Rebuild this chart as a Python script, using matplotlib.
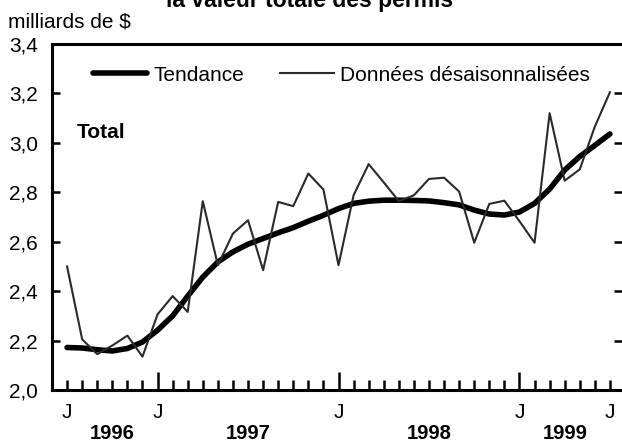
import matplotlib
matplotlib.use("Agg")
import matplotlib.pyplot as plt
import matplotlib.transforms as mtransforms

plt.rcParams['font.family'] = ['Liberation Sans', 'DejaVu Sans']

# Months from Jul 1996 (index 0) to Jul 1999 (index 36)
months = list(range(37))
data = [2.50, 2.205, 2.145, 2.18, 2.22, 2.135, 2.306, 2.38, 2.316, 2.764,
        2.505, 2.633, 2.687, 2.485, 2.761, 2.744, 2.876, 2.811, 2.505, 2.788,
        2.914, 2.84, 2.764, 2.788, 2.854, 2.859, 2.803, 2.596, 2.753, 2.766,
        2.683, 2.596, 3.12, 2.847, 2.893, 3.066, 3.205]
trend = [2.172, 2.17, 2.163, 2.158, 2.168, 2.194, 2.242, 2.30, 2.38, 2.457,
         2.518, 2.559, 2.59, 2.613, 2.636, 2.657, 2.683, 2.707, 2.734, 2.755,
         2.764, 2.768, 2.768, 2.767, 2.765, 2.758, 2.749, 2.728, 2.712, 2.708,
         2.72, 2.755, 2.813, 2.89, 2.945, 2.99, 3.036]
jan_idx = [6, 18, 30]
jul_label_idx = [0, 36]
years = ['1996', '1997', '1998', '1999']
year_centers = [3, 12, 24, 33]
yticks = [2.0, 2.2, 2.4, 2.6, 2.8, 3.0, 3.2, 3.4]
ytick_labels = ['2,0', '2,2', '2,4', '2,6', '2,8', '3,0', '3,2', '3,4']

FS = 15
W, H = 622, 444
fig = plt.figure(figsize=(W / 100, H / 100), dpi=100)
ax = fig.add_axes([52 / W, (H - 390) / H, (W - 52) / W, 346 / H])

ax.plot(months, trend, color='black', lw=4.0, solid_capstyle='round',
        label='Tendance', zorder=3)
ax.plot(months, data, color='#2a2a2a', lw=1.5, label='Données désaisonnalisées',
        zorder=4)

ax.set_xlim(-1, 36.8)
ax.set_ylim(2.0, 3.4)

for s in ['left', 'top', 'bottom']:
    ax.spines[s].set_linewidth(2.2)
ax.spines['right'].set_visible(False)

ax.set_yticks(yticks)
ax.set_yticklabels(ytick_labels)
ax.tick_params(axis='y', direction='in', length=6, width=1.8, right=True,
               labelright=False, labelsize=FS, pad=10)

other = [m for m in months if m not in jan_idx]
ax.set_xticks(other)
ax.set_xticklabels(['J' if m in jul_label_idx else '' for m in other])
ax.set_xticks(jan_idx, minor=True)
ax.set_xticklabels(['J'] * len(jan_idx), minor=True)
ax.tick_params(axis='x', which='major', direction='in', length=7, width=1.8,
               labelsize=FS, pad=9)
ax.tick_params(axis='x', which='minor', direction='in', length=13, width=1.8,
               labelsize=FS, pad=9)

trans = mtransforms.blended_transform_factory(ax.transData, fig.transFigure)
for yr, c in zip(years, year_centers):
    ax.text(c, 1 - 439 / H, yr, transform=trans, ha='center', va='baseline',
            fontsize=14.5, fontweight='bold')

ax.text(0.044, 0.743, 'Total', transform=ax.transAxes, ha='left', va='center',
        fontsize=FS, fontweight='bold')

ax.legend(loc='center left', bbox_to_anchor=(0.072, 0.910), ncol=2,
          frameon=False, fontsize=FS, handlelength=2.6, handletextpad=0.3,
          columnspacing=1.7, borderpad=0, borderaxespad=0)

fig.text(8 / W, 1 - 22 / H, 'milliards de $', ha='left', va='center', fontsize=FS)
fig.text(0.498, 1 - 7 / H, 'la valeur totale des permis', ha='center',
         va='baseline', fontsize=16.5, fontweight='bold')

fig.savefig('out.png', dpi=100)
